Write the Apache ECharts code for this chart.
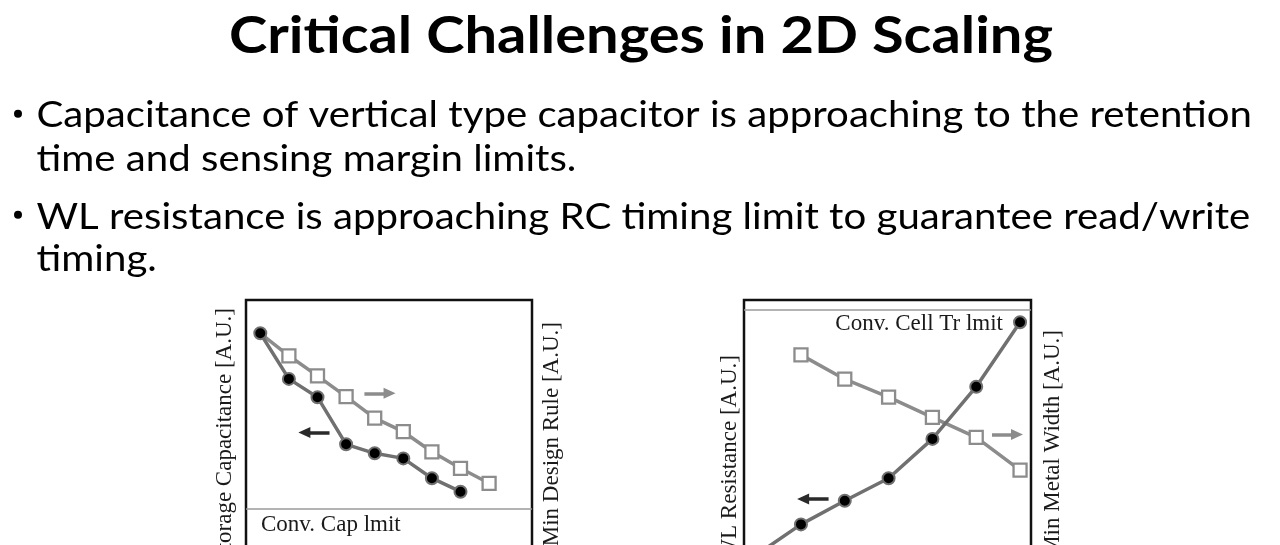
<!DOCTYPE html>
<html>
<head>
<meta charset="utf-8">
<script src="https://cdn.jsdelivr.net/npm/echarts@6/dist/echarts.min.js"></script>
<style>
html,body{margin:0;padding:0;background:#fff;}
#chart{width:1280px;height:545px;}
</style>
</head>
<body>
<div id="chart"></div>
<script>
// ---------------- data ----------------
const titleText = 'Critical Challenges in 2D Scaling';
const bulletLines = [
  'Capacitance of vertical type capacitor is approaching to the retention',
  'time and sensing margin limits.',
  'WL resistance is approaching RC timing limit to guarantee read/write',
  'timing.'
];
// left panel (scaling steps, arbitrary units)
const leftNodes = [0, 1, 2, 3, 4, 5, 6, 7, 8];
const storageCapacitance = [88.9, 73.7, 67.6, 51.9, 48.9, 47.2, 40.6, 36.1];
const minDesignRule = [88.9, 81.4, 74.7, 67.8, 60.6, 56.1, 49.4, 43.9, 38.9];
const convCapLimit = 30.3;
const leftAxisNames = ['Storage Capacitance [A.U.]', 'Min Design Rule [A.U.]'];
const leftLimitLabel = 'Conv. Cap lmit';
// right panel
const rightNodes = [0, 1, 2, 3, 4, 5, 6];
const wlResistance = [15.2, 25.2, 33.1, 40.6, 53.7, 71.1, 92.6];
const minMetalWidth = [null, 81.7, 73.6, 67.6, 60.9, 54.2, 43.3];
const convCellTrLimit = 96.7;
const rightAxisNames = ['WL Resistance [A.U.]', 'Min Metal Width [A.U.]'];
const rightLimitLabel = 'Conv. Cell Tr lmit';

// ---------------- styling ----------------
const SANS = 'Lato';
const SERIF = '"Liberation Serif", "DejaVu Serif", serif';
const DARK_LINE = '#707070';
const LIGHT_LINE = '#8c8c8c';
const measureCtx = document.createElement('canvas').getContext('2d');
function textWidth(text, font) { measureCtx.font = font; return measureCtx.measureText(text).width; }

const TITLE_FS = 52;
const BODY_FS = 36;
const titleScale = 824 / textWidth(titleText, 'bold ' + TITLE_FS + 'px ' + SANS);
const bodyScale = 1215.5 / textWidth(bulletLines[0], BODY_FS + 'px ' + SANS);

function pairs(xs, ys) {
  const out = [];
  ys.forEach((v, i) => { if (v != null) out.push([xs[i], v]); });
  return out;
}

const leftCapData = pairs(leftNodes, storageCapacitance);
const leftRuleData = pairs(leftNodes, minDesignRule).map((p, i) => i === 0 ? { value: p, symbol: 'none' } : p);
const rightResData = pairs(rightNodes, wlResistance);
const rightWidthData = pairs(rightNodes, minMetalWidth);

function circleSeries(name, xi, yi, data, extra) {
  return Object.assign({
    name, type: 'line', xAxisIndex: xi, yAxisIndex: yi, data, z: 4,
    symbol: 'circle', symbolSize: 12,
    lineStyle: { color: DARK_LINE, width: 3.5 },
    itemStyle: { color: '#000', borderColor: DARK_LINE, borderWidth: 2 },
    emphasis: { disabled: true }, silent: true
  }, extra);
}
function squareSeries(name, xi, yi, data, extra) {
  return Object.assign({
    name, type: 'line', xAxisIndex: xi, yAxisIndex: yi, data, z: 3,
    symbol: 'rect', symbolSize: 13,
    lineStyle: { color: LIGHT_LINE, width: 3.5 },
    itemStyle: { color: '#fff', borderColor: LIGHT_LINE, borderWidth: 2.3 },
    emphasis: { disabled: true }, silent: true
  }, extra);
}
function arrow(x1, x2, y, color) {
  const ls = { color, width: 3.5, type: 'solid' };
  return [
    { coord: [x1, y], symbol: 'none', lineStyle: ls },
    { coord: [x2, y], symbol: 'triangle', symbolSize: [11, 12], lineStyle: ls, itemStyle: { color } }
  ];
}
const limitLine = (value, label, pos, dist) => ({
  yAxis: value,
  lineStyle: { color: '#9a9a9a', width: 1.5, type: 'solid' },
  label: { show: true, position: pos, formatter: label, distance: dist,
           color: '#1a1a1a', fontFamily: SERIF, fontSize: 23 }
});
const markBase = { silent: true, animation: false, symbol: ['none', 'none'], label: { show: false },
                   emphasis: { disabled: true } };

function axisNameText(text, x, y) {
  return { type: 'text', x, y, rotation: Math.PI / 2, silent: true,
    style: { text, align: 'right', verticalAlign: 'middle', textAlign: 'right', textVerticalAlign: 'middle',
             fontFamily: SERIF, fontSize: 23, fill: '#1a1a1a' } };
}
function sansText(text, x, y, fs, bold, scale) {
  return { type: 'text', x, y, scaleX: scale, silent: true,
    style: { text, align: 'left', verticalAlign: 'middle', textAlign: 'left', textVerticalAlign: 'middle',
             fontFamily: SANS, fontSize: fs, fontWeight: bold ? 'bold' : 'normal', fill: '#000' } };
}

const gridBase = { show: true, borderColor: '#111', borderWidth: 2.5, backgroundColor: 'transparent',
                   containLabel: false, outerBoundsMode: 'none' };

const option = {
  backgroundColor: '#fff',
  animation: false,
  grid: [
    Object.assign({ left: 246, top: 300, width: 286, height: 300 }, gridBase),
    Object.assign({ left: 744, top: 300, width: 287, height: 300 }, gridBase)
  ],
  xAxis: [
    { type: 'value', gridIndex: 0, min: -0.5, max: 9.5, show: false },
    { type: 'value', gridIndex: 1, min: -0.3, max: 6.25, show: false }
  ],
  yAxis: [
    { type: 'value', gridIndex: 0, min: 0, max: 100, show: false },
    { type: 'value', gridIndex: 0, min: 0, max: 100, show: false, position: 'right' },
    { type: 'value', gridIndex: 1, min: 0, max: 100, show: false },
    { type: 'value', gridIndex: 1, min: 0, max: 100, show: false, position: 'right' }
  ],
  series: [
    squareSeries(leftAxisNames[1], 0, 1, leftRuleData, {
      markLine: Object.assign({}, markBase, { data: [ arrow(3.64, 4.52, 68.9, LIGHT_LINE) ] })
    }),
    circleSeries(leftAxisNames[0], 0, 0, leftCapData, {
      markLine: Object.assign({}, markBase, { data: [
        limitLine(convCapLimit, leftLimitLabel, 'insideStartBottom', [15, 4]),
        arrow(2.42, 1.54, 55.8, '#2a2a2a')
      ] })
    }),
    squareSeries(rightAxisNames[1], 1, 3, rightWidthData, {
      markLine: Object.assign({}, markBase, { data: [ arrow(5.36, 5.93, 55.2, LIGHT_LINE) ] })
    }),
    circleSeries(rightAxisNames[0], 1, 2, rightResData, {
      markLine: Object.assign({}, markBase, { data: [
        limitLine(convCellTrLimit, rightLimitLabel, 'insideEndBottom', [28, 3]),
        arrow(1.63, 1.05, 33.7, '#2a2a2a')
      ] })
    })
  ],
  graphic: [
    sansText(titleText, 229, 36.6, TITLE_FS, true, titleScale),
    { type: 'circle', shape: { cx: 18, cy: 113.8, r: 4 }, style: { fill: '#000' }, silent: true },
    { type: 'circle', shape: { cx: 18, cy: 214.7, r: 4 }, style: { fill: '#000' }, silent: true },
    sansText(bulletLines[0], 36.5, 115.7, BODY_FS, false, bodyScale),
    sansText(bulletLines[1], 36.5, 159.7, BODY_FS, false, bodyScale),
    sansText(bulletLines[2], 36.5, 217.3, BODY_FS, false, bodyScale),
    sansText(bulletLines[3], 36.5, 259.7, BODY_FS, false, bodyScale),
    axisNameText(leftAxisNames[0], 225, 308),
    axisNameText(leftAxisNames[1], 552, 322),
    axisNameText(rightAxisNames[0], 730, 355),
    axisNameText(rightAxisNames[1], 1053, 330)
  ]
};

const chart = echarts.init(document.getElementById('chart'), null, { renderer: 'canvas' });
chart.setOption(option);
</script>
</body>
</html>
